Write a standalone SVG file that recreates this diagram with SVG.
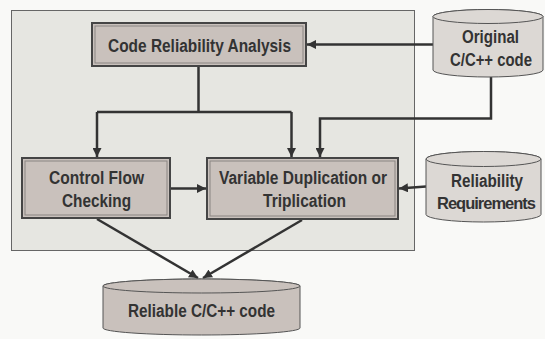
<svg xmlns="http://www.w3.org/2000/svg" width="545" height="339" viewBox="0 0 545 339">
<defs>
<marker id="ah" markerUnits="userSpaceOnUse" markerWidth="10" markerHeight="9" refX="9" refY="4.5" orient="auto">
<path d="M0,0 L9,4.5 L0,9 Z" fill="#333"/>
</marker>
<style>
.box{fill:#c9c1bc;stroke:#454545;stroke-width:2}
.inner{fill:none;stroke:#8a8582;stroke-width:1}
.cyl{fill:#dcd8d4;stroke:#555;stroke-width:1}
.cyl2{fill:#c9c1bc;stroke:#555;stroke-width:1}
.t{font-family:"Liberation Sans",Arial,sans-serif;font-weight:bold;font-size:17.5px;fill:#333;text-anchor:middle}
.c{fill:none;stroke:#333;stroke-width:2.5}
</style>
</defs>
<rect width="545" height="339" fill="#f9f9f7"/>
<rect id="panel" x="11.5" y="10.5" width="403" height="240" fill="#e6e6e1" stroke="#666" stroke-width="1"/>

<g id="connectors">
<path class="c" d="M433,44.5 H307" marker-end="url(#ah)"/>
<path class="c" d="M198.5,66 V112 M97,112 H291.5"/>
<path class="c" d="M97,112 V157" marker-end="url(#ah)"/>
<path class="c" d="M291.5,112 V157" marker-end="url(#ah)"/>
<path class="c" d="M491,77 V118.5 H320 V157" marker-end="url(#ah)"/>
<path class="c" d="M171,188.5 H206" stroke-width="3.5" marker-end="url(#ah)"/>
<path class="c" d="M426,186.5 L399,188.5" marker-end="url(#ah)"/>
<path class="c" d="M97,219 L198,278" marker-end="url(#ah)"/>
<path class="c" d="M302,220 L203,278" marker-end="url(#ah)"/>
</g>

<g id="code-reliability-analysis">
<rect class="box" x="92" y="23" width="214" height="43"/>
<rect class="inner" x="95" y="26" width="208" height="37"/>
<text class="t" x="199.5" y="52" textLength="183" lengthAdjust="spacingAndGlyphs">Code Reliability Analysis</text>
</g>

<g id="control-flow-checking">
<rect class="box" x="22" y="158" width="148" height="60"/>
<rect class="inner" x="25" y="161" width="142" height="54"/>
<text class="t" x="96.5" y="184" textLength="95" lengthAdjust="spacingAndGlyphs">Control Flow</text>
<text class="t" x="96.5" y="206.5" textLength="69" lengthAdjust="spacingAndGlyphs">Checking</text>
</g>

<g id="variable-duplication">
<rect class="box" x="207" y="158" width="191" height="61"/>
<rect class="inner" x="210" y="161" width="185" height="55"/>
<text class="t" x="303" y="184" textLength="168" lengthAdjust="spacingAndGlyphs">Variable Duplication or</text>
<text class="t" x="304.5" y="207" textLength="83" lengthAdjust="spacingAndGlyphs">Triplication</text>
</g>

<g id="original-code">
<path class="cyl" d="M433,16.5 V70 A55,7 0 0 0 543,70 V16.5 A55,7 0 0 0 433,16.5 Z"/>
<ellipse class="cyl" cx="488" cy="16.5" rx="55" ry="7"/>
<text class="t" x="490.5" y="43" textLength="57" lengthAdjust="spacingAndGlyphs">Original</text>
<text class="t" x="491" y="66" textLength="82" lengthAdjust="spacingAndGlyphs">C/C++ code</text>
</g>

<g id="reliability-requirements">
<path class="cyl" d="M426,159 V214.5 A57.5,7.5 0 0 0 541,214.5 V159 A57.5,7.5 0 0 0 426,159 Z"/>
<ellipse class="cyl" cx="483.5" cy="159" rx="57.5" ry="7.5"/>
<text class="t" x="487" y="186.5" textLength="72" lengthAdjust="spacingAndGlyphs">Reliability</text>
<text class="t" x="486" y="208.5" style="font-size:16.5px;letter-spacing:-1px">Requirements</text>
</g>

<g id="reliable-code">
<path class="cyl2" d="M103,286 V328 A98.5,7 0 0 0 300,328 V286 A98.5,7 0 0 0 103,286 Z"/>
<ellipse class="cyl2" cx="201.5" cy="286" rx="98.5" ry="7"/>
<text class="t" x="201.5" y="317" textLength="147" lengthAdjust="spacingAndGlyphs">Reliable C/C++ code</text>
</g>
</svg>
